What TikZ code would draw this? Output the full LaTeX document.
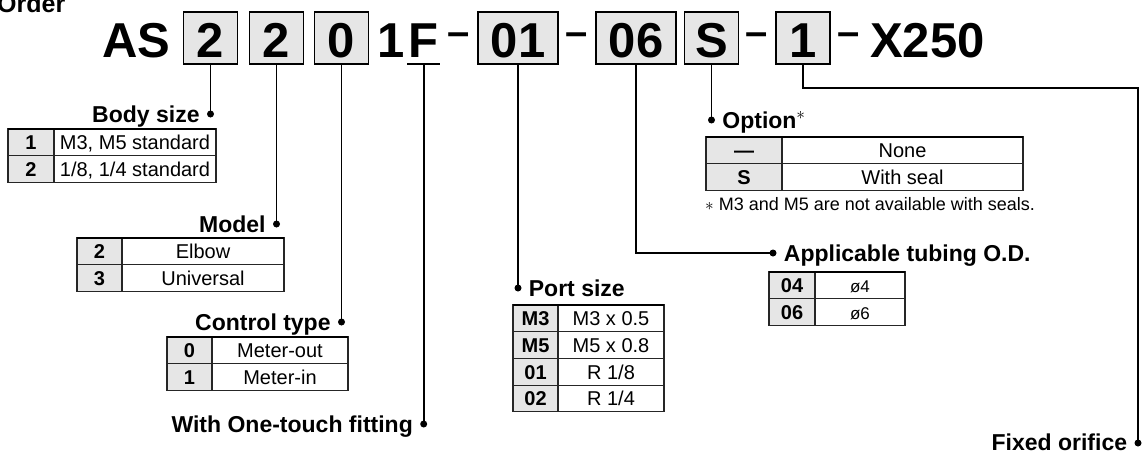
\documentclass[tikz,border=0pt]{standalone}
\usepackage{fontspec}
\setmainfont{Liberation Sans}
\usetikzlibrary{positioning}
\definecolor{cellgray}{HTML}{E6E6E6}

\begin{document}
\begin{tikzpicture}[x=1pt,y=-1pt,
    codetxt/.style={font=\fontsize{49}{55}\selectfont\bfseries, inner sep=0pt},
    codebox/.style={codetxt, draw, fill=cellgray, line width=1.5pt, minimum width=#1, text height=45pt, text depth=7pt, anchor=base},
    dashsym/.style={font=\fontsize{40}{44}\selectfont\bfseries, inner sep=0pt, anchor=base},
    headtxt/.style={font=\fontsize{23}{27}\selectfont\bfseries, inner sep=0pt, text height=16.5pt, text depth=0pt},
    leaddot/.style={circle, fill, inner sep=0pt, minimum size=7pt},
    leadline/.style={line width=1.6pt},
    keycell/.style={draw=black!85, fill=cellgray, line width=1.1pt, outer sep=0pt, inner sep=0pt, minimum width=#1, minimum height=26.7pt, text height=14.5pt, text depth=0pt, font=\fontsize{20}{24}\selectfont\bfseries},
    valcell/.style={draw=black!85, line width=1.1pt, outer sep=0pt, inner sep=0pt, minimum width=#1, minimum height=26.7pt, text height=14.5pt, text depth=0pt, font=\fontsize{20}{24}\selectfont},
    topedge/.style={line width=2pt}
]
    \useasboundingbox (0,0) rectangle (1142,453);

    % model code
    \node[font=\fontsize{25}{29}\selectfont\bfseries, inner sep=0pt, anchor=base west] (order) at (-3,12) {Order};
    \node[codetxt, anchor=base west] (as) at (102,57) {AS};
    \node[codebox=54] (bSize) at (210.5,57) {2};
    \node[codebox=54] (bModel) at (276.5,57) {2};
    \node[codebox=54] (bCtrl) at (341.5,57) {0};
    \node[codetxt, anchor=base east] (one) at (405,57) {1};
    \node[codetxt, anchor=base west, minimum width=33pt, text depth=7pt] (fit) at (407,57) {F};
    \draw[leadline] (fit.south west) -- (fit.south east);
    \node[dashsym] (s1) at (459,45) {–};
    \node[codebox=80] (bPort) at (518,57) {01};
    \node[dashsym] (s2) at (577,45) {–};
    \node[codebox=80] (bTube) at (636,57) {06};
    \node[codebox=54] (bOpt) at (711.5,57) {S};
    \node[dashsym] (s3) at (757,45) {–};
    \node[codebox=54] (bOrif) at (803,57) {1};
    \node[dashsym] (s4) at (849,45) {–};
    \node[codetxt, anchor=base west] (x250) at (870,57) {X250};

    % body size
    \node[leaddot] (dSize) at (210.5,114) {};
    \node[headtxt, left=7pt of dSize] (lSize) {Body size};
    \draw[leadline] (bSize.south) -- (dSize.center);
    \node[keycell=46, anchor=north west] (bs1k) at (8,129) {1};
    \node[valcell=162, right=0pt of bs1k] (bs1v) {M3, M5 standard};
    \node[keycell=46, below=0pt of bs1k] (bs2k) {2};
    \node[valcell=162, right=0pt of bs2k] (bs2v) {1/8, 1/4 standard};
    \draw[topedge] (bs1k.north west) -- (bs1v.north east);

    % model
    \node[leaddot] (dModel) at (276.5,224) {};
    \node[headtxt, left=7pt of dModel] (lModel) {Model};
    \draw[leadline] (bModel.south) -- (dModel.center);
    \node[keycell=45, anchor=north west] (md1k) at (77,238) {2};
    \node[valcell=162, right=0pt of md1k] (md1v) {Elbow};
    \node[keycell=45, below=0pt of md1k] (md2k) {3};
    \node[valcell=162, right=0pt of md2k] (md2v) {Universal};
    \draw[topedge] (md1k.north west) -- (md1v.north east);

    % control type
    \node[leaddot] (dCtrl) at (341.5,322) {};
    \node[headtxt, left=7pt of dCtrl] (lCtrl) {Control type};
    \draw[leadline] (bCtrl.south) -- (dCtrl.center);
    \node[keycell=45, anchor=north west] (ct1k) at (167,337) {0};
    \node[valcell=136, right=0pt of ct1k] (ct1v) {Meter-out};
    \node[keycell=45, below=0pt of ct1k] (ct2k) {1};
    \node[valcell=136, right=0pt of ct2k] (ct2v) {Meter-in};
    \draw[topedge] (ct1k.north west) -- (ct1v.north east);

    % one-touch fitting
    \node[leaddot] (dFit) at (fit.south |- 0,424) {};
    \node[headtxt, left=7pt of dFit] (lFit) {With One-touch fitting};
    \draw[leadline] (fit.south) -- (dFit.center);

    % port size
    \node[leaddot] (dPort) at (518,288) {};
    \node[headtxt, right=7pt of dPort] (lPort) {Port size};
    \draw[leadline] (bPort.south) -- (dPort.center);
    \node[keycell=45, anchor=north west] (ps1k) at (513,305) {M3};
    \node[valcell=106, right=0pt of ps1k] (ps1v) {M3 x 0.5};
    \node[keycell=45, below=0pt of ps1k] (ps2k) {M5};
    \node[valcell=106, right=0pt of ps2k] (ps2v) {M5 x 0.8};
    \node[keycell=45, below=0pt of ps2k] (ps3k) {01};
    \node[valcell=106, right=0pt of ps3k] (ps3v) {R 1/8};
    \node[keycell=45, below=0pt of ps3k] (ps4k) {02};
    \node[valcell=106, right=0pt of ps4k] (ps4v) {R 1/4};
    \draw[topedge] (ps1k.north west) -- (ps1v.north east);

    % option
    \node[leaddot] (dOpt) at (711.5,120) {};
    \node[headtxt, right=7pt of dOpt] (lOpt) {Option$^{\ast}$};
    \draw[leadline] (bOpt.south) -- (dOpt.center);
    \node[keycell=76, anchor=north west] (op1k) at (706,137) {—};
    \node[valcell=241, right=0pt of op1k] (op1v) {None};
    \node[keycell=76, below=0pt of op1k] (op2k) {S};
    \node[valcell=241, right=0pt of op2k] (op2v) {With seal};
    \draw[topedge] (op1k.north west) -- (op1v.north east);
    \node[font=\fontsize{18}{22}\selectfont, inner sep=0pt, anchor=base west] (optnote) at (705,210) {$\ast$ M3 and M5 are not available with seals.};

    % tubing
    \node[leaddot] (dTube) at (773,253) {};
    \node[headtxt, right=7pt of dTube] (lTube) {Applicable tubing O.D.};
    \draw[leadline] (bTube.south) |- (dTube.center);
    \node[keycell=46, anchor=north west] (tb1k) at (769,272) {04};
    \node[valcell=90, right=0pt of tb1k, font=\fontsize{17}{20}\selectfont] (tb1v) {ø4};
    \node[keycell=46, below=0pt of tb1k] (tb2k) {06};
    \node[valcell=90, right=0pt of tb2k, font=\fontsize{17}{20}\selectfont] (tb2v) {ø6};
    \draw[topedge] (tb1k.north west) -- (tb1v.north east);

    % fixed orifice
    \node[leaddot] (dOrif) at (1138,443) {};
    \node[headtxt, left=7pt of dOrif, yshift=1pt] (lOrif) {Fixed orifice};
    \draw[leadline] (bOrif.south) -- ++(0,23) -| (dOrif.center);
\end{tikzpicture}
\end{document}
